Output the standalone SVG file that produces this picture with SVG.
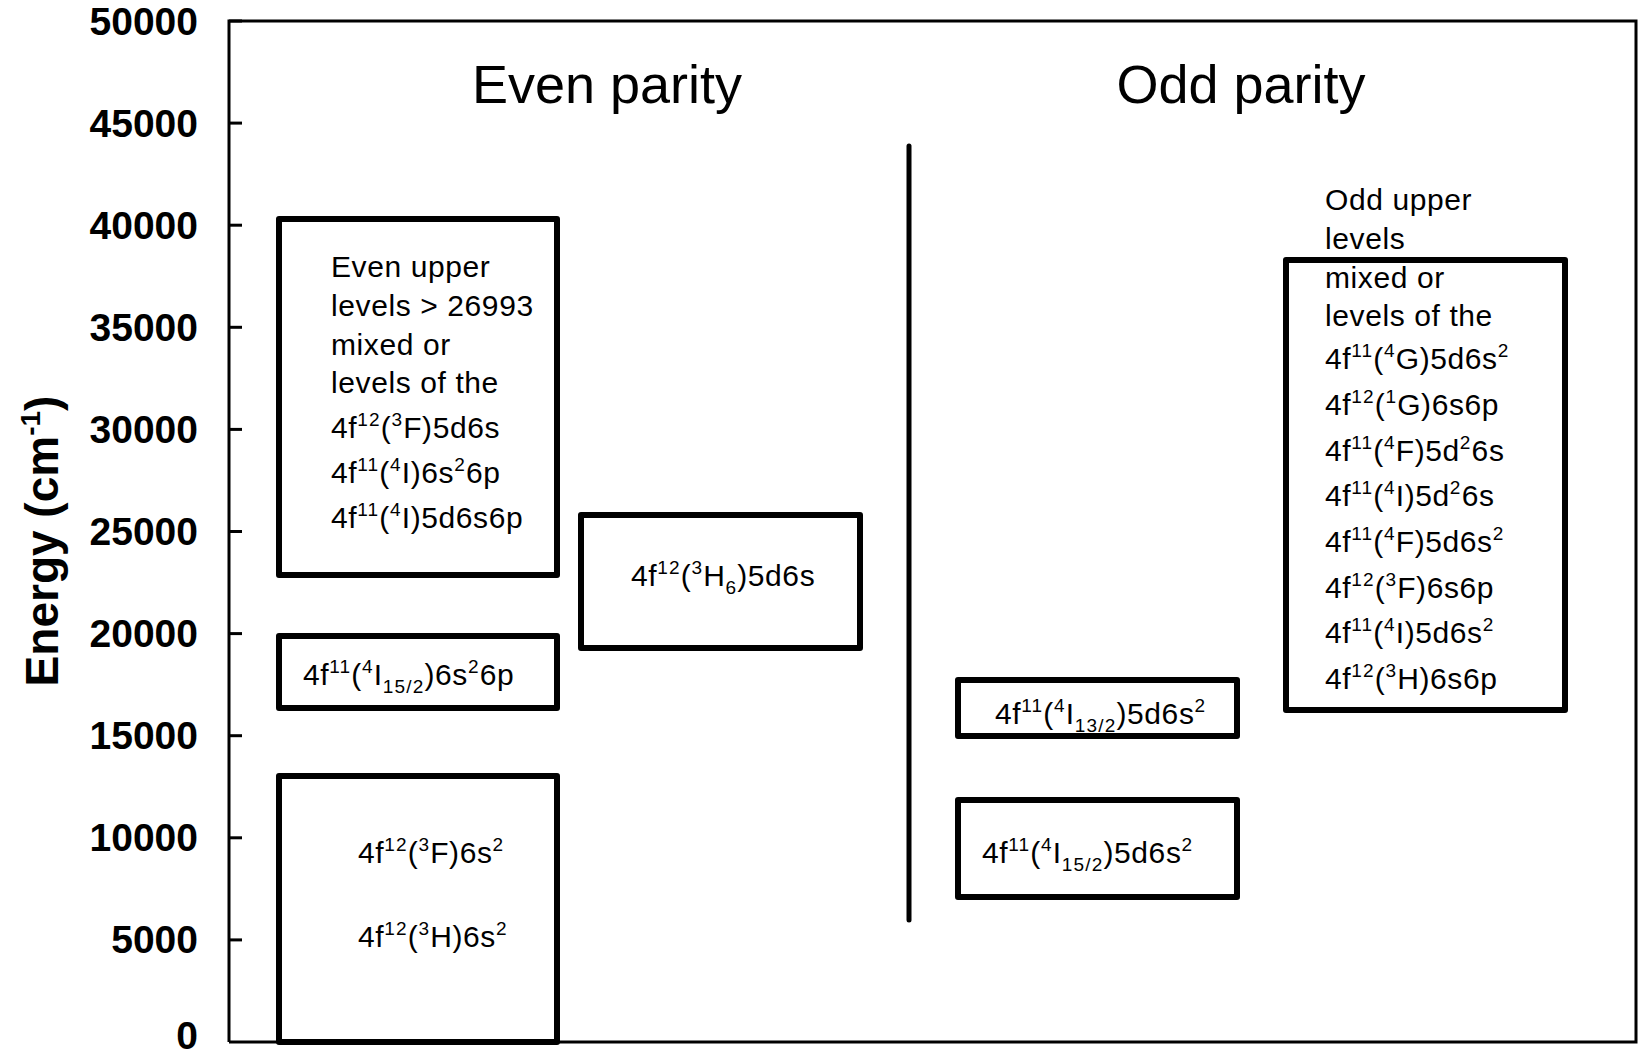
<svg xmlns="http://www.w3.org/2000/svg" width="1640" height="1056" viewBox="0 0 1640 1056">
  <style>
    .frame { fill: none; stroke: #000; stroke-width: 3; }
    .tick { stroke: #000; stroke-width: 3; }
    .box { fill: #fff; stroke: #000; stroke-width: 6; stroke-linejoin: round; }
    .divider { stroke: #000; stroke-width: 5; stroke-linecap: round; }
    .ylab { font-family: "Liberation Sans", Arial, sans-serif; font-weight: bold; font-size: 39px; text-anchor: end; }
    .axis-title { font-family: "Liberation Sans", Arial, sans-serif; font-weight: bold; font-size: 46px; text-anchor: middle; }
    .head { font-family: "Liberation Sans", Arial, sans-serif; font-size: 54px; text-anchor: middle; }
    .txt { font-family: "Liberation Sans", Arial, sans-serif; font-size: 30px; letter-spacing: 0.6px; }
    .s { font-size: 19px; letter-spacing: 1.2px; }
  </style>

  <rect width="1640" height="1056" fill="#fff"/>

  <!-- plot frame and energy axis -->
  <g id="axis">
    <polyline class="frame" points="229,1042 229,21 1636,21 1636,1042 229,1042"/>
    <g>
      <line class="tick" x1="229" y1="21" x2="242" y2="21"/>
      <line class="tick" x1="229" y1="123.1" x2="242" y2="123.1"/>
      <line class="tick" x1="229" y1="225.2" x2="242" y2="225.2"/>
      <line class="tick" x1="229" y1="327.3" x2="242" y2="327.3"/>
      <line class="tick" x1="229" y1="429.4" x2="242" y2="429.4"/>
      <line class="tick" x1="229" y1="531.5" x2="242" y2="531.5"/>
      <line class="tick" x1="229" y1="633.6" x2="242" y2="633.6"/>
      <line class="tick" x1="229" y1="735.7" x2="242" y2="735.7"/>
      <line class="tick" x1="229" y1="837.8" x2="242" y2="837.8"/>
      <line class="tick" x1="229" y1="939.9" x2="242" y2="939.9"/>
    </g>
    <g>
      <text class="ylab" x="198" y="35">50000</text>
      <text class="ylab" x="198" y="137">45000</text>
      <text class="ylab" x="198" y="239">40000</text>
      <text class="ylab" x="198" y="341">35000</text>
      <text class="ylab" x="198" y="443">30000</text>
      <text class="ylab" x="198" y="545">25000</text>
      <text class="ylab" x="198" y="647">20000</text>
      <text class="ylab" x="198" y="749">15000</text>
      <text class="ylab" x="198" y="851">10000</text>
      <text class="ylab" x="198" y="953">5000</text>
      <text class="ylab" x="198" y="1049">0</text>
    </g>
    <text class="axis-title" transform="translate(58,541) rotate(-90)">Energy (cm<tspan font-size="28" dy="-18">-1</tspan><tspan dy="18">)</tspan></text>
  </g>

  <!-- parity headings and divider -->
  <g id="headings">
    <text class="head" x="607" y="103">Even parity</text>
    <text class="head" x="1241" y="103">Odd parity</text>
  </g>
  <g id="connectors">
    <line class="divider" x1="909" y1="146" x2="909" y2="920"/>
  </g>

  <!-- even parity configurations -->
  <g id="even-upper">
    <rect class="box" x="279" y="219" width="278" height="356"/>
    <text class="txt" x="331">
      <tspan x="331" y="277">Even upper</tspan>
      <tspan x="331" y="316">levels &gt; 26993</tspan>
      <tspan x="331" y="355">mixed or</tspan>
      <tspan x="331" y="393">levels of the</tspan>
    </text>
    <text class="txt" x="331" y="438">4f<tspan class="s" dy="-12">12</tspan><tspan dy="12">(</tspan><tspan class="s" dy="-12">3</tspan><tspan dy="12">F)5d6s</tspan></text>
    <text class="txt" x="331" y="483">4f<tspan class="s" dy="-12">11</tspan><tspan dy="12">(</tspan><tspan class="s" dy="-12">4</tspan><tspan dy="12">I)6s</tspan><tspan class="s" dy="-12">2</tspan><tspan dy="12">6p</tspan></text>
    <text class="txt" x="331" y="528">4f<tspan class="s" dy="-12">11</tspan><tspan dy="12">(</tspan><tspan class="s" dy="-12">4</tspan><tspan dy="12">I)5d6s6p</tspan></text>
  </g>

  <g id="even-6s2-6p">
    <rect class="box" x="279" y="636" width="278" height="72"/>
    <text class="txt" x="303" y="685">4f<tspan class="s" dy="-12">11</tspan><tspan dy="12">(</tspan><tspan class="s" dy="-12">4</tspan><tspan dy="12">I</tspan><tspan class="s" dy="8">15/2</tspan><tspan dy="-8">)6s</tspan><tspan class="s" dy="-12">2</tspan><tspan dy="12">6p</tspan></text>
  </g>

  <g id="even-ground">
    <rect class="box" x="279" y="776" width="278" height="266"/>
    <text class="txt" x="358" y="863">4f<tspan class="s" dy="-12">12</tspan><tspan dy="12">(</tspan><tspan class="s" dy="-12">3</tspan><tspan dy="12">F)6s</tspan><tspan class="s" dy="-12">2</tspan></text>
    <text class="txt" x="358" y="947">4f<tspan class="s" dy="-12">12</tspan><tspan dy="12">(</tspan><tspan class="s" dy="-12">3</tspan><tspan dy="12">H)6s</tspan><tspan class="s" dy="-12">2</tspan></text>
  </g>

  <g id="even-5d6s">
    <rect class="box" x="581" y="515" width="279" height="133"/>
    <text class="txt" x="631" y="586">4f<tspan class="s" dy="-12">12</tspan><tspan dy="12">(</tspan><tspan class="s" dy="-12">3</tspan><tspan dy="12">H</tspan><tspan class="s" dy="8">6</tspan><tspan dy="-8">)5d6s</tspan></text>
  </g>

  <!-- odd parity configurations -->
  <g id="odd-13-2">
    <rect class="box" x="958" y="680" width="279" height="56"/>
    <text class="txt" x="995" y="724">4f<tspan class="s" dy="-12">11</tspan><tspan dy="12">(</tspan><tspan class="s" dy="-12">4</tspan><tspan dy="12">I</tspan><tspan class="s" dy="8">13/2</tspan><tspan dy="-8">)5d6s</tspan><tspan class="s" dy="-12">2</tspan></text>
  </g>

  <g id="odd-15-2">
    <rect class="box" x="958" y="800" width="279" height="97"/>
    <text class="txt" x="982" y="863">4f<tspan class="s" dy="-12">11</tspan><tspan dy="12">(</tspan><tspan class="s" dy="-12">4</tspan><tspan dy="12">I</tspan><tspan class="s" dy="8">15/2</tspan><tspan dy="-8">)5d6s</tspan><tspan class="s" dy="-12">2</tspan></text>
  </g>

  <g id="odd-upper">
    <rect class="box" x="1286" y="260" width="279" height="450"/>
    <text class="txt">
      <tspan x="1325" y="210">Odd upper</tspan>
      <tspan x="1325" y="249">levels</tspan>
      <tspan x="1325" y="288">mixed or</tspan>
      <tspan x="1325" y="326">levels of the</tspan>
    </text>
    <text class="txt" x="1325" y="369">4f<tspan class="s" dy="-12">11</tspan><tspan dy="12">(</tspan><tspan class="s" dy="-12">4</tspan><tspan dy="12">G)5d6s</tspan><tspan class="s" dy="-12">2</tspan></text>
    <text class="txt" x="1325" y="415">4f<tspan class="s" dy="-12">12</tspan><tspan dy="12">(</tspan><tspan class="s" dy="-12">1</tspan><tspan dy="12">G)6s6p</tspan></text>
    <text class="txt" x="1325" y="461">4f<tspan class="s" dy="-12">11</tspan><tspan dy="12">(</tspan><tspan class="s" dy="-12">4</tspan><tspan dy="12">F)5d</tspan><tspan class="s" dy="-12">2</tspan><tspan dy="12">6s</tspan></text>
    <text class="txt" x="1325" y="506">4f<tspan class="s" dy="-12">11</tspan><tspan dy="12">(</tspan><tspan class="s" dy="-12">4</tspan><tspan dy="12">I)5d</tspan><tspan class="s" dy="-12">2</tspan><tspan dy="12">6s</tspan></text>
    <text class="txt" x="1325" y="552">4f<tspan class="s" dy="-12">11</tspan><tspan dy="12">(</tspan><tspan class="s" dy="-12">4</tspan><tspan dy="12">F)5d6s</tspan><tspan class="s" dy="-12">2</tspan></text>
    <text class="txt" x="1325" y="598">4f<tspan class="s" dy="-12">12</tspan><tspan dy="12">(</tspan><tspan class="s" dy="-12">3</tspan><tspan dy="12">F)6s6p</tspan></text>
    <text class="txt" x="1325" y="643">4f<tspan class="s" dy="-12">11</tspan><tspan dy="12">(</tspan><tspan class="s" dy="-12">4</tspan><tspan dy="12">I)5d6s</tspan><tspan class="s" dy="-12">2</tspan></text>
    <text class="txt" x="1325" y="689">4f<tspan class="s" dy="-12">12</tspan><tspan dy="12">(</tspan><tspan class="s" dy="-12">3</tspan><tspan dy="12">H)6s6p</tspan></text>
  </g>
</svg>
